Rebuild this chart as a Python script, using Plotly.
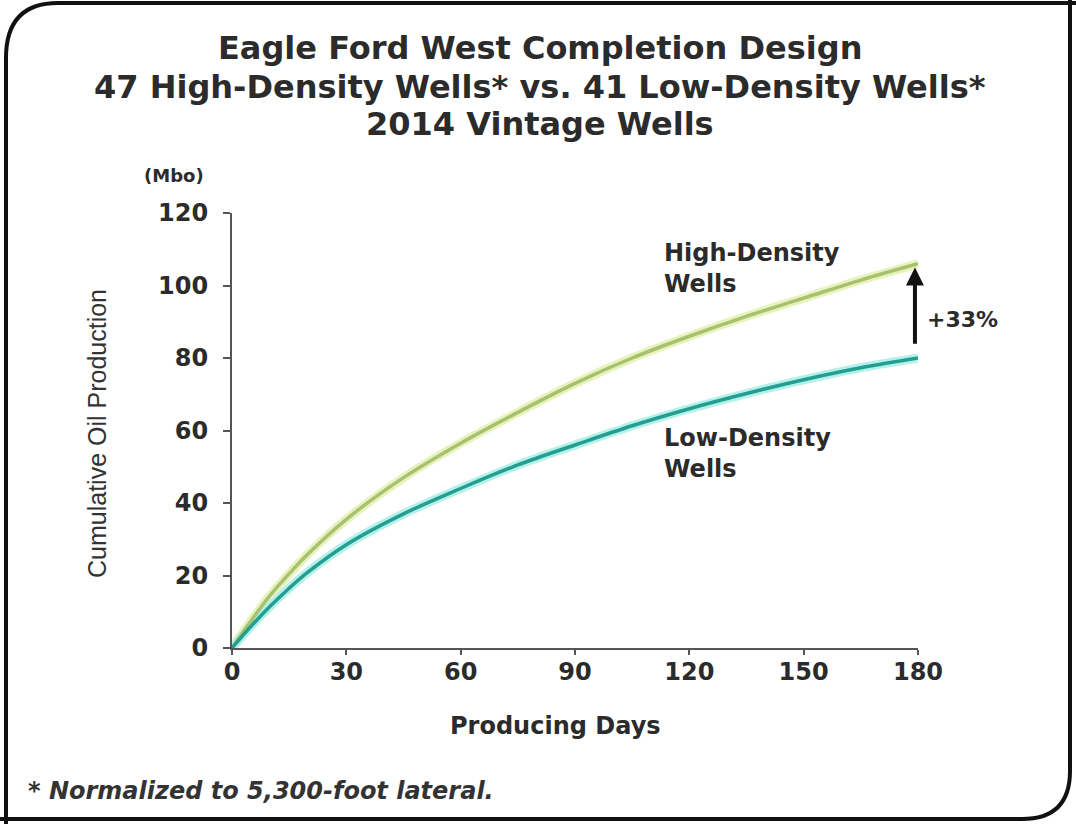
import plotly.graph_objects as go

# ---- data ----
days = [0, 5, 10, 15, 20, 30, 45, 60, 75, 90, 105, 120, 135, 150, 165, 180]
high_density = [0, 7.5, 14.5, 20.5, 26, 35.5, 47, 56.5, 65, 73, 80, 86, 91.5, 96.5, 101.5, 106]
low_density = [0, 6, 11.5, 16.5, 21, 28.5, 37, 44, 50.5, 56, 61.3, 66, 70.2, 74, 77.3, 80]
x_ticks = [0, 30, 60, 90, 120, 150, 180]
y_ticks = [0, 20, 40, 60, 80, 100, 120]
title_lines = ["Eagle Ford West Completion Design",
               "47 High-Density Wells* vs. 41 Low-Density Wells*",
               "2014 Vintage Wells"]

W, H = 1076, 824
L, R, T, B = 232, 918, 213, 648  # plot area in pixels


def px(x):
    return (x - L) / (R - L)


def py(y):
    return (B - y) / (B - T)


BOLD = "DejaVu Sans"
TXT = "#2b2b2b"

fig = go.Figure()

# soft glow under the lines (like the reference)
fig.add_trace(go.Scatter(x=days, y=high_density, mode="lines", line=dict(color="#e8f3bc", width=9, shape="spline"), hoverinfo="skip"))
fig.add_trace(go.Scatter(x=days, y=low_density, mode="lines", line=dict(color="#b4f1ea", width=9, shape="spline"), hoverinfo="skip"))
fig.add_trace(go.Scatter(x=days, y=high_density, mode="lines", name="High-Density Wells",
                         line=dict(color="#a8c170", width=3.5, shape="spline")))
fig.add_trace(go.Scatter(x=days, y=low_density, mode="lines", name="Low-Density Wells",
                         line=dict(color="#249e90", width=3.5, shape="spline")))

annotations = []
for line_text, yc in zip(title_lines, [48, 87, 124]):
    annotations.append(dict(x=px(540), y=py(yc), xref="paper", yref="paper", showarrow=False, text=line_text,
                            font=dict(family=BOLD, size=32, color=TXT, weight="bold"),
                            xanchor="center", yanchor="middle"))

annotations += [
    dict(x=px(174), y=py(176), xref="paper", yref="paper", showarrow=False, text="(Mbo)",
         font=dict(family=BOLD, size=18, color=TXT, weight="bold"), xanchor="center", yanchor="middle"),
    dict(x=px(97), y=py(434), xref="paper", yref="paper", showarrow=False, text="Cumulative Oil Production",
         textangle=-90, font=dict(family="Liberation Sans Narrow, Liberation Sans, Arial", size=25, color="#333"),
         xanchor="center", yanchor="middle"),
    dict(x=px(555), y=py(726), xref="paper", yref="paper", showarrow=False, text="Producing Days",
         font=dict(family=BOLD, size=24, color=TXT, weight="bold"), xanchor="center", yanchor="middle"),
    dict(x=px(662), y=py(268), xref="paper", yref="paper", showarrow=False, text="High-Density<br>Wells",
         align="left", font=dict(family=BOLD, size=24, color=TXT, weight="bold"), xanchor="left", yanchor="middle"),
    dict(x=px(662), y=py(453), xref="paper", yref="paper", showarrow=False, text="Low-Density<br>Wells",
         align="left", font=dict(family=BOLD, size=24, color=TXT, weight="bold"), xanchor="left", yanchor="middle"),
    dict(x=px(925), y=py(319), xref="paper", yref="paper", showarrow=False, text="+33%",
         font=dict(family=BOLD, size=22, color=TXT, weight="bold"), xanchor="left", yanchor="middle"),
    dict(x=px(26), y=py(791), xref="paper", yref="paper", showarrow=False, text="* Normalized to 5,300-foot lateral.",
         font=dict(family=BOLD, size=24, color="#333", weight="bold", style="italic"), xanchor="left", yanchor="middle"),
    # +33% arrow
    dict(x=179.2, y=105, xref="x", yref="y", ax=179.2, ay=83.5, axref="x", ayref="y",
         showarrow=True, arrowhead=2, arrowsize=0.9, arrowwidth=4, arrowcolor="#111", text=""),
]

# rounded frame around the whole picture
frame1 = "M {} {} L {} {} Q {} {} {} {} L {} {}".format(
    px(6), py(830), px(6), py(58), px(6), py(3), px(58), py(3), px(1080), py(3))
frame2 = "M {} {} L {} {} Q {} {} {} {} L {} {}".format(
    px(-4), py(819), px(1022), py(819), px(1070), py(819), px(1070), py(771), px(1070), py(-4))
shapes = [
    dict(type="path", path=frame1, xref="paper", yref="paper", line=dict(color="#111", width=4)),
    dict(type="path", path=frame2, xref="paper", yref="paper", line=dict(color="#111", width=4)),
]

fig.update_layout(
    width=W, height=H,
    margin=dict(l=L, r=W - R, t=T, b=H - B),
    paper_bgcolor="white", plot_bgcolor="white",
    showlegend=False,
    annotations=annotations,
    shapes=shapes,
    xaxis=dict(range=[0, 180], tickvals=x_ticks, ticktext=[str(v) for v in x_ticks],
               showgrid=False, zeroline=False, showline=True, linecolor="#555", linewidth=2,
               ticks="outside", ticklen=5, tickwidth=2, tickcolor="#555", ticklabelstandoff=-4,
               tickfont=dict(family=BOLD, size=24, color=TXT, weight="bold")),
    yaxis=dict(range=[0, 120], tickvals=y_ticks, ticktext=[str(v) for v in y_ticks],
               showgrid=False, zeroline=False, showline=True, linecolor="#555", linewidth=2,
               ticks="outside", ticklen=7, tickwidth=2, tickcolor="#555", ticklabelstandoff=10,
               tickfont=dict(family=BOLD, size=24, color=TXT, weight="bold")),
)

fig.write_html("out.html", config={"displayModeBar": False},
               post_script="document.body.style.margin='0px';")
